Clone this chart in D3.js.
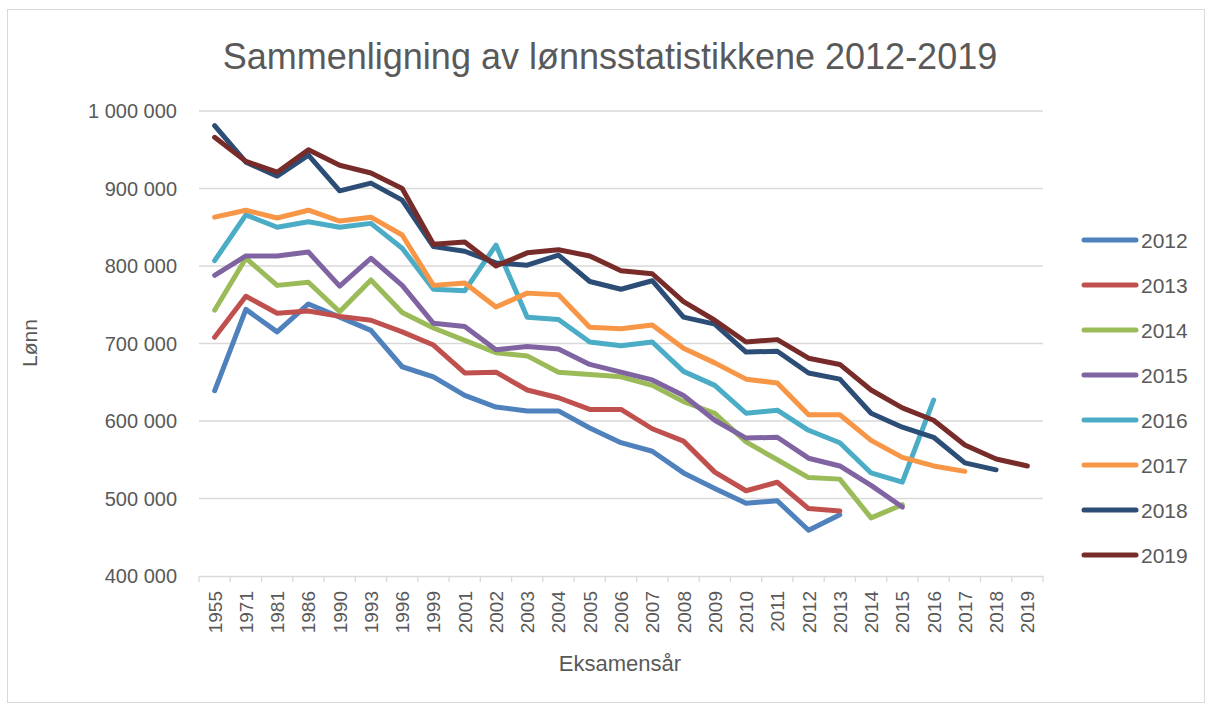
<!DOCTYPE html>
<html><head><meta charset="utf-8">
<script src="https://cdn.jsdelivr.net/npm/d3@7"></script>
<style>body{margin:0;background:#fff}</style>
</head><body><svg id="c" width="1213" height="707"></svg>
<script>
const categories = ["1955","1971","1981","1986","1990","1993","1996","1999","2001","2002","2003","2004","2005","2006","2007","2008","2009","2010","2011","2012","2013","2014","2015","2016","2017","2018","2019"];
const seriesNames = ["2012","2013","2014","2015","2016","2017","2018","2019"];
const s2012 = [639000,744000,715000,751000,734000,717000,670000,657000,633000,618000,613000,613000,591000,572000,561000,533000,513000,494000,497000,459000,479000];
const s2013 = [708000,761000,739000,742000,735000,730000,715000,698000,662000,663000,640000,630000,615000,615000,590000,574000,534000,510000,521000,487000,484000];
const s2014 = [743000,810000,775000,779000,741000,782000,740000,720000,704000,688000,684000,663000,660000,657000,646000,625000,610000,573000,550000,527000,525000,475000,492000];
const s2015 = [788000,813000,813000,818000,774000,810000,775000,726000,722000,692000,696000,693000,673000,663000,653000,633000,601000,578000,579000,552000,542000,517000,489000];
const s2016 = [807000,866000,850000,857000,850000,855000,823000,770000,768000,827000,734000,731000,702000,697000,702000,664000,646000,610000,614000,588000,572000,533000,521000,627000];
const s2017 = [863000,872000,862000,872000,858000,863000,840000,775000,778000,747000,765000,763000,721000,719000,724000,694000,675000,654000,649000,608000,608000,575000,553000,542000,535000];
const s2018 = [981000,934000,916000,943000,897000,907000,885000,825000,819000,804000,801000,814000,780000,770000,781000,734000,725000,689000,690000,662000,654000,610000,592000,579000,546000,537000];
const s2019 = [966000,935000,921000,950000,930000,920000,900000,828000,831000,800000,817000,821000,813000,794000,790000,754000,730000,702000,705000,681000,673000,640000,617000,601000,569000,551000,542000];
const colors = ["#4F81BD","#C0504D","#9BBB59","#8064A2","#4BACC6","#F79646","#2C4D75","#772C2A"];
const yTicks = [400000,500000,600000,700000,800000,900000,1000000];
const allSeries = [s2012,s2013,s2014,s2015,s2016,s2017,s2018,s2019];

const svg = d3.select("#c");
const font = "'Liberation Sans', Arial, sans-serif";
svg.append("rect").attr("x",7.5).attr("y",9.5).attr("width",1197).attr("height",693)
  .attr("fill","#fff").attr("stroke","#d9d9d9");

const L=199,R=1043,T=111,B=576;
const x = d3.scaleBand().domain(categories).range([L,R]);
const y = d3.scaleLinear().domain([400000,1000000]).range([B,T]);

svg.append("text").attr("x",610).attr("y",69).attr("text-anchor","middle")
  .attr("font-family",font).attr("font-size",36).attr("fill","#595959")
  .text("Sammenligning av lønnsstatistikkene 2012-2019");

// gridlines
svg.append("g").selectAll("line").data(yTicks.slice(1)).join("line")
  .attr("x1",L).attr("x2",R).attr("y1",d=>y(d)).attr("y2",d=>y(d))
  .attr("stroke","#d9d9d9").attr("stroke-width",1.3);

// y labels
const fmt = v => d3.format(",")(v).replace(/,/g," ");
svg.append("g").selectAll("text").data(yTicks).join("text")
  .attr("x",177).attr("y",d=>y(d)+7).attr("text-anchor","end")
  .attr("font-family",font).attr("font-size",20).attr("fill","#595959")
  .text(fmt);

// x axis
const xa = svg.append("g").attr("transform",`translate(0,${B})`)
  .call(d3.axisBottom(x).tickSize(0).tickPadding(0));
xa.select(".domain").attr("stroke","#d9d9d9").attr("stroke-width",1.3);
xa.selectAll(".tick text").remove();
const bounds = categories.map(c=>x(c)).concat([R]);
svg.append("g").selectAll("line").data(bounds).join("line")
  .attr("x1",d=>d).attr("x2",d=>d).attr("y1",B).attr("y2",B+6)
  .attr("stroke","#d9d9d9").attr("stroke-width",1.3);
svg.append("g").selectAll("text").data(categories).join("text")
  .attr("transform",d=>`translate(${x(d)+x.bandwidth()/2+7},591) rotate(-90)`)
  .attr("text-anchor","end").attr("font-family",font).attr("font-size",19).attr("fill","#595959")
  .text(d=>d);

// axis titles
svg.append("text").attr("x",620).attr("y",671).attr("text-anchor","middle")
  .attr("font-family",font).attr("font-size",22).attr("fill","#595959").text("Eksamensår");
svg.append("text").attr("transform","translate(37,343) rotate(-90)").attr("text-anchor","middle")
  .attr("font-family",font).attr("font-size",21).attr("fill","#595959").text("Lønn");

// lines
const line = d3.line().x((d,i)=>x(categories[i])+x.bandwidth()/2).y(d=>y(d));
svg.append("g").selectAll("path").data(allSeries).join("path")
  .attr("d",line).attr("fill","none").attr("stroke",(d,i)=>colors[i])
  .attr("stroke-width",5).attr("stroke-linejoin","round").attr("stroke-linecap","round");

// legend
const lg = svg.append("g").selectAll("g").data(seriesNames).join("g")
  .attr("transform",(d,i)=>`translate(0,${240+i*45})`);
lg.append("line").attr("x1",1084).attr("x2",1136).attr("stroke",(d,i)=>colors[i])
  .attr("stroke-width",5).attr("stroke-linecap","round");
lg.append("text").attr("x",1141).attr("y",8).attr("font-family",font).attr("font-size",21)
  .attr("fill","#595959").text(d=>d);
</script></body></html>
